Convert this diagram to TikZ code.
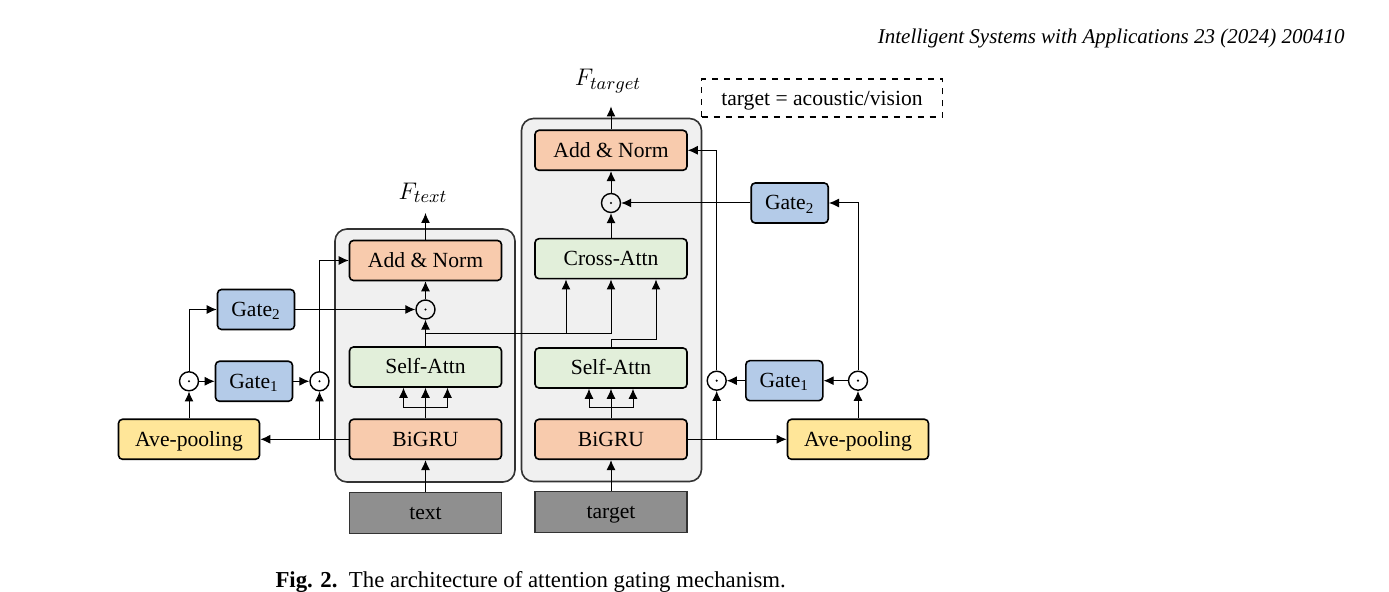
\documentclass[tikz,border=0pt]{standalone}
\usepackage{fontspec}
\setmainfont{Liberation Serif}
\usetikzlibrary{arrows.meta}
\definecolor{addorange}{HTML}{F8CBAD}
\definecolor{attngreen}{HTML}{E2EFDA}
\definecolor{gateblue}{HTML}{B4CBE8}
\definecolor{poolyellow}{HTML}{FFE699}
\definecolor{inputgrey}{HTML}{8F8F8F}
\definecolor{framegrey}{HTML}{F0F0F0}
\newcommand{\nodefont}{\fontsize{10.8}{12}\selectfont}

\begin{document}
\begin{tikzpicture}
    [
        x=0.5pt, y=-0.5pt,
        >={Latex[length=5pt,width=4.5pt]},
        line width=0.5pt,
        block/.style = {draw, shape=rectangle, rounded corners=2pt, minimum height=20pt, minimum width=76pt, line width=0.8pt, font=\nodefont, text height=8.4pt, text depth=1.6pt},
        orange/.style = {block, fill=addorange},
        green/.style = {block, fill=attngreen},
        gate/.style = {block, fill=gateblue, minimum width=38.5pt},
        pool/.style = {block, fill=poolyellow, minimum width=70.5pt},
        input/.style = {draw=black!80, shape=rectangle, minimum height=20.5pt, minimum width=76pt, line width=0.8pt, fill=inputgrey, font=\nodefont, text height=8.4pt, text depth=1.6pt},
        frame/.style = {draw=black!80, fill=framegrey, rounded corners=6pt, line width=0.8pt},
        odot/.style = {draw, shape=circle, minimum size=9.5pt, inner sep=0pt, line width=0.7pt,
                       path picture={\fill (path picture bounding box.center) circle (0.6pt);}},
        label/.style = {font=\fontsize{13}{15}\selectfont, inner sep=0pt},
    ]

    \useasboundingbox (0,0) rectangle (1389,592);

    % the two columns
    \draw[frame] (335,229) rectangle (515,482);
    \draw[frame] (521.5,118.5) rectangle (701.5,481.5);

    \node[orange] (0an) at (425.5,260.5)   {Add \& Norm};
    \node[odot]   (0dot) at (425.5,309.5)  {};
    \node[green]  (0sa) at (425.5,367)     {Self-Attn};
    \node[orange] (0gru) at (425.5,439.3)  {BiGRU};
    \node[input]  (0in) at (425.5,513)     {text};
    \node[label]  (0out) at (423,193)      {$F_{text}$};
    \coordinate   (0top) at (425.5,213);

    \node[orange] (1an) at (611,150.3)     {Add \& Norm};
    \node[odot]   (1dot) at (611,203)      {};
    \node[green]  (1ca) at (611,258.7)     {Cross-Attn};
    \node[green]  (1sa) at (611,368)       {Self-Attn};
    \node[orange] (1gru) at (611,439.3)    {BiGRU};
    \node[input]  (1in) at (611,512)       {target};
    \node[label]  (1out) at (608,81)       {$F_{target}$};
    \coordinate   (1top) at (611,106.5);

    \node[draw, dashed, line width=0.8pt, minimum width=120.5pt, minimum height=19pt, font=\nodefont, text height=8.4pt, text depth=1.6pt] (note) at (822,98.3) {target = acoustic/vision};

    % gates of the text column
    \node[pool] (0pool) at (189,439.3)     {Ave-pooling};
    \node[odot] (0d1) at (189,381.3)       {};
    \node[gate] (0g1) at (254,381.3)       {Gate\textsubscript{1}};
    \node[gate] (0g2) at (256,309.5)       {Gate\textsubscript{2}};
    \node[odot] (0d2) at (319.5,381.3)     {};

    % gates of the target column
    \node[odot] (1d1) at (716.7,380.7)     {};
    \node[gate] (1g1) at (784.3,380.7)     {Gate\textsubscript{1}};
    \node[odot] (1d2) at (858,380.7)       {};
    \node[gate] (1g2) at (789.7,203)       {Gate\textsubscript{2}};
    \node[pool] (1pool) at (858,439.3)     {Ave-pooling};

    \coordinate (0fork) at (425.5,407.5);
    \coordinate (1fork) at (611,407.5);
    \coordinate (0tap) at (425.5,334);

    \draw [->] (0in) -- (0gru);
    \draw (0gru) -- (0fork);
    \draw [->] (0fork) -- (0sa);
    \draw [->] (0fork) -| ([xshift=-11pt]0sa.south);
    \draw [->] (0fork) -| ([xshift=11pt]0sa.south);
    \draw [->] (0sa) -- (0dot);
    \draw [->] (0dot) -- (0an);
    \draw [->] (0an) -- (0top);

    \draw [->] (1in) -- (1gru);
    \draw (1gru) -- (1fork);
    \draw [->] (1fork) -- (1sa);
    \draw [->] (1fork) -| ([xshift=-11pt]1sa.south);
    \draw [->] (1fork) -| ([xshift=11pt]1sa.south);
    \draw [->] (1ca) -- (1dot);
    \draw [->] (1dot) -- (1an);
    \draw [->] (1an) -- (1top);

    \draw [->] (0tap) -| (1ca.south);
    \draw [->] ([xshift=-22.5pt]1ca.south |- 0tap) -- ([xshift=-22.5pt]1ca.south);
    \draw [->] (1sa.north) -- ++(0,-7.5) -| ([xshift=22.5pt]1ca.south);

    \draw [->] (0gru.west) -- (0pool.east);
    \draw [->] (0d2 |- 0gru.west) -- (0d2);
    \draw [->] (0d2.north) |- (0an.west);
    \draw [->] (0pool) -- (0d1);
    \draw [->] (0d1) -- (0g1);
    \draw [->] (0d1.north) |- (0g2.west);
    \draw [->] (0g1) -- (0d2);
    \draw [->] (0g2) -- (0dot);

    \draw [->] (1gru.east) -- (1pool.west);
    \draw [->] (1d1 |- 1gru.east) -- (1d1);
    \draw [->] (1d1.north) |- (1an.east);
    \draw [->] (1pool) -- (1d2);
    \draw [->] (1d2) -- (1g1);
    \draw [->] (1g1) -- (1d1);
    \draw [->] (1d2.north) |- (1g2.east);
    \draw [->] (1g2) -- (1dot);

    % page texts
    \node[anchor=base east, inner sep=0pt, font=\fontsize{10.5}{12}\selectfont\itshape] (head) at (1345,44) {Intelligent Systems with Applications 23 (2024) 200410};
    \node[anchor=base west, inner sep=0pt, font=\fontsize{11.4}{13}\selectfont] (cap) at (275,588) {\textbf{Fig. 2.}\ \ The architecture of attention gating mechanism.};

\end{tikzpicture}
\end{document}
